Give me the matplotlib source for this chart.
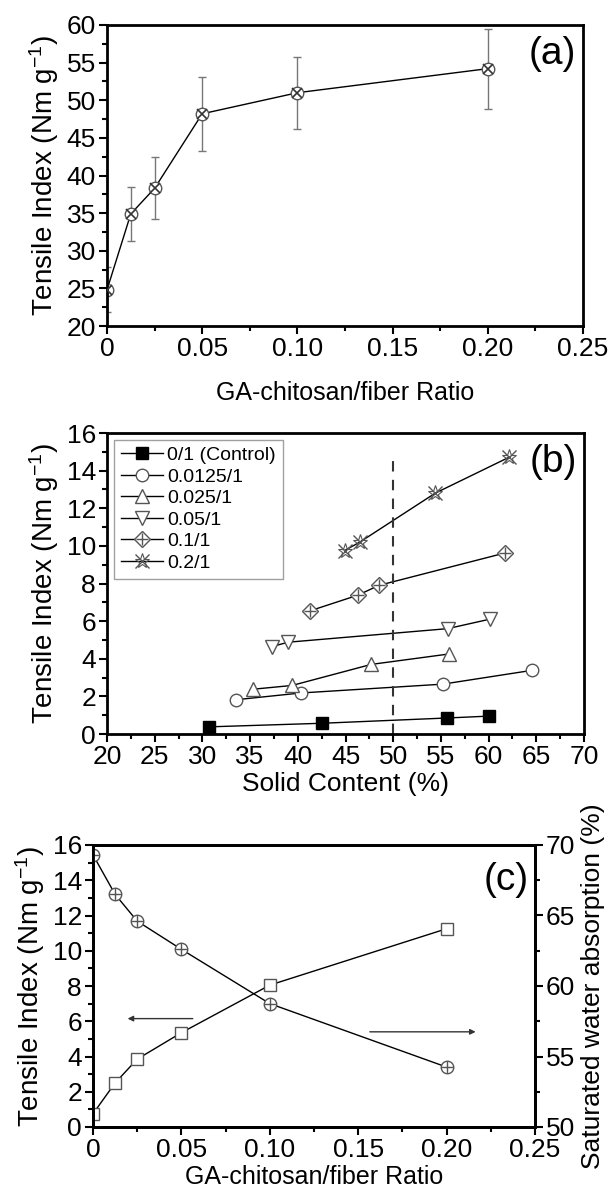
import numpy as np
import matplotlib
matplotlib.use('Agg')
import matplotlib.pyplot as plt
from matplotlib.ticker import MultipleLocator

plt.rcParams['font.family'] = ['Liberation Sans', 'DejaVu Sans']
plt.rcParams['mathtext.fontset'] = 'custom'
plt.rcParams['mathtext.rm'] = 'Liberation Sans'
plt.rcParams['mathtext.it'] = 'Liberation Sans'

# ====== panel (a) data ======
ratio = [0, 0.0125, 0.025, 0.05, 0.10, 0.20]
tensile_a = [24.8, 34.9, 38.3, 48.2, 51.0, 54.2]
tensile_a_err = [3.0, 3.6, 4.1, 4.9, 4.8, 5.3]

# ====== panel (b) data ======
series_labels = ['0/1 (Control)', '0.0125/1', '0.025/1', '0.05/1', '0.1/1', '0.2/1']
solid_control = [30.7, 42.5, 55.6, 60.0]
tensile_control = [0.38, 0.57, 0.85, 0.95]
solid_00125 = [33.5, 40.3, 55.2, 64.5]
tensile_00125 = [1.82, 2.18, 2.65, 3.38]
solid_0025 = [35.3, 39.4, 47.7, 55.8]
tensile_0025 = [2.38, 2.58, 3.70, 4.25]
solid_005 = [37.3, 39.0, 55.7, 60.1]
tensile_005 = [4.65, 4.88, 5.60, 6.10]
solid_01 = [41.3, 46.3, 48.5, 61.7]
tensile_01 = [6.55, 7.38, 7.90, 9.62]
solid_02 = [44.9, 46.5, 54.4, 62.1]
tensile_02 = [9.75, 10.20, 12.80, 14.70]
dashed_x = 50
dashed_top = 14.5

# ====== panel (c) data ======
tensile_c = [0.75, 2.50, 3.85, 5.35, 8.05, 11.25]
water_abs = [69.3, 66.5, 64.6, 62.6, 58.75, 54.25]

TICK_FS = 19
XLAB_FS = 18
YLAB_FS = 20
PANEL_FS = 28
EC = '#555555'
W, H = 609, 1193

fig = plt.figure(figsize=(W / 100, H / 100), dpi=100)


def style_axes(ax, right=False):
    for s in ax.spines.values():
        s.set_linewidth(2)
    ax.tick_params(which='major', direction='out', length=6, width=1.5, labelsize=TICK_FS, pad=2)
    ax.tick_params(which='minor', direction='out', length=3.5, width=1.5)
    ax.tick_params(top=False, right=right, left=not right, labelright=right, labelleft=not right)


# ====== (a) ======
ax1 = fig.add_axes([107 / W, 1 - 326 / H, 476 / W, 301 / H])
ax1.errorbar(ratio, tensile_a, yerr=tensile_a_err, color='black', lw=1, ecolor='#777777',
             elinewidth=1, capsize=3, capthick=1, marker='o', ms=9, mfc='white', mec=EC, mew=1)
ax1.plot(ratio, tensile_a, ls='none', marker='x', ms=6.5, mec='#333333', mew=1.2, zorder=5,
         clip_on=True)
ax1.set_xlim(0, 0.25)
ax1.set_ylim(20, 60)
ax1.xaxis.set_minor_locator(MultipleLocator(0.025))
ax1.yaxis.set_major_locator(MultipleLocator(5))
ax1.yaxis.set_minor_locator(MultipleLocator(2.5))
ax1.set_xticks([0, 0.05, 0.10, 0.15, 0.20, 0.25])
ax1.set_xticklabels(['0', '0.05', '0.10', '0.15', '0.20', '0.25'])
style_axes(ax1)
ax1.set_xlabel('GA-chitosan/fiber Ratio', fontsize=XLAB_FS, labelpad=14)
ax1.set_ylabel('Tensile Index (Nm g$^{-1}$)', fontsize=YLAB_FS, labelpad=4)
ax1.text(0.985, 0.965, '(a)', transform=ax1.transAxes, ha='right', va='top', fontsize=PANEL_FS)

# ====== (b) ======
ax2 = fig.add_axes([107 / W, 1 - 734 / H, 477 / W, 301 / H])
ax2.plot(solid_control, tensile_control, color='black', lw=1, marker='s', ms=8,
         mfc='black', mec='black', label=series_labels[0])
ax2.plot(solid_00125, tensile_00125, color='black', lw=1, marker='o', ms=9,
         mfc='white', mec=EC, label=series_labels[1])
ax2.plot(solid_0025, tensile_0025, color='black', lw=1, marker='^', ms=10,
         mfc='white', mec=EC, label=series_labels[2])
ax2.plot(solid_005, tensile_005, color='black', lw=1, marker='v', ms=10,
         mfc='white', mec=EC, label=series_labels[3])
l5, = ax2.plot(solid_01, tensile_01, color='black', lw=1, marker='D', ms=8,
               mfc='white', mec=EC)
p5, = ax2.plot(solid_01, tensile_01, ls='none', marker='+', ms=9, mec=EC, mew=1)
l6, = ax2.plot(solid_02, tensile_02, color='black', lw=1, marker='x', ms=10,
               mec=EC, mew=1)
p6, = ax2.plot(solid_02, tensile_02, ls='none', marker='*', ms=11, mfc='none', mec=EC, mew=0.8)
ax2.plot([dashed_x, dashed_x], [0, dashed_top], color='#333333', lw=1.5, ls=(0, (5, 4)))
ax2.set_xlim(20, 70)
ax2.set_ylim(0, 16)
ax2.xaxis.set_major_locator(MultipleLocator(5))
ax2.xaxis.set_minor_locator(MultipleLocator(2.5))
ax2.yaxis.set_major_locator(MultipleLocator(2))
ax2.yaxis.set_minor_locator(MultipleLocator(1))
style_axes(ax2)
ax2.set_xlabel('Solid Content (%)', fontsize=XLAB_FS + 1, labelpad=2)
ax2.set_ylabel('Tensile Index (Nm g$^{-1}$)', fontsize=YLAB_FS, labelpad=4)
ax2.text(0.985, 0.965, '(b)', transform=ax2.transAxes, ha='right', va='top', fontsize=PANEL_FS)
handles, labels = ax2.get_legend_handles_labels()
handles += [(l5, p5), (l6, p6)]
labels += series_labels[4:]
leg = ax2.legend(handles, labels, loc='upper left', fontsize=14, frameon=True, fancybox=False,
                 edgecolor='#888888', handlelength=2.2, handletextpad=0.2, labelspacing=0.2,
                 borderaxespad=0.35, borderpad=0.35)
leg.get_frame().set_linewidth(1)

# ====== (c) ======
ax3 = fig.add_axes([93 / W, 1 - 1127 / H, 442 / W, 282 / H])
ax3.plot(ratio, tensile_c, color='black', lw=1, marker='s', ms=9, mfc='white', mec=EC)
ax3.set_xlim(0, 0.25)
ax3.set_ylim(0, 16)
ax3.xaxis.set_minor_locator(MultipleLocator(0.025))
ax3.yaxis.set_major_locator(MultipleLocator(2))
ax3.yaxis.set_minor_locator(MultipleLocator(1))
ax3.set_xticks([0, 0.05, 0.10, 0.15, 0.20, 0.25])
ax3.set_xticklabels(['0', '0.05', '0.10', '0.15', '0.20', '0.25'])
style_axes(ax3)
ax3.set_xlabel('GA-chitosan/fiber Ratio', fontsize=XLAB_FS, labelpad=2)
ax3.set_ylabel('Tensile Index (Nm g$^{-1}$)', fontsize=YLAB_FS, labelpad=4)
ax3.annotate('', xy=(0.018, 6.15), xytext=(0.058, 6.15),
             arrowprops=dict(arrowstyle='-|>', color='#333333', lw=1, mutation_scale=8))
ax3.text(0.985, 0.94, '(c)', transform=ax3.transAxes, ha='right', va='top', fontsize=PANEL_FS)

ax4 = ax3.twinx()
ax4.plot(ratio, water_abs, color='black', lw=1, marker='o', ms=9, mfc='white', mec=EC)
ax4.plot(ratio, water_abs, ls='none', marker='+', ms=9, mec=EC, mew=1)
ax4.set_ylim(50, 70)
ax4.yaxis.set_major_locator(MultipleLocator(5))
ax4.yaxis.set_minor_locator(MultipleLocator(2.5))
style_axes(ax4, right=True)
ax4.set_ylabel('Saturated water absorption (%)', fontsize=YLAB_FS - 1, labelpad=4)
ax4.annotate('', xy=(0.218, 56.75), xytext=(0.155, 56.75),
             arrowprops=dict(arrowstyle='-|>', color='#333333', lw=1, mutation_scale=8))

fig.savefig('out.png', dpi=100)
